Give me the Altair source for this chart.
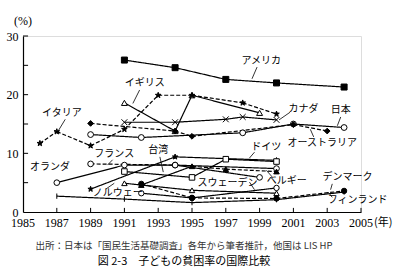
import altair as alt
import pandas as pd

# ---- data ----
series_names = ["アメリカ", "イギリス", "イタリア", "カナダ", "日本", "オーストラリア",
                "フランス", "オランダ", "台湾", "ドイツ", "ベルギー", "ノルウェー",
                "スウェーデン", "デンマーク", "フィンランド"]

years = {
    "アメリカ": [1991, 1994, 1997, 2000, 2004],
    "イギリス": [1991, 1994, 1995, 1999],
    "イタリア": [1986, 1987, 1989, 1991, 1993, 1995, 1998, 2000],
    "カナダ": [1991, 1994, 1997, 1998, 2000],
    "日本": [1989, 1992, 1998, 2001, 2004],
    "オーストラリア": [1989, 1994, 1995, 2001, 2003],
    "フランス": [1989, 1994, 2000],
    "オランダ": [1987, 1991, 1994, 1999],
    "台湾": [1989, 1994, 2000],
    "ドイツ": [1991, 1995, 1997, 2000],
    "ベルギー": [1992, 1995, 1997, 2000],
    "ノルウェー": [1991, 1995, 2000],
    "スウェーデン": [1992, 1995, 2000],
    "デンマーク": [1992, 1995, 2000, 2004],
    "フィンランド": [1987, 1991, 1995, 2000, 2004],
}
values = {
    "アメリカ": [25.9, 24.6, 22.6, 22.0, 21.3],
    "イギリス": [18.6, 13.8, 19.9, 16.9],
    "イタリア": [11.7, 13.7, 11.3, 14.1, 19.9, 19.9, 18.6, 16.7],
    "カナダ": [15.3, 15.3, 15.8, 16.2, 15.7],
    "日本": [13.2, 12.7, 13.5, 15.0, 14.4],
    "オーストラリア": [15.1, 13.8, 12.9, 14.9, 13.8],
    "フランス": [8.2, 8.0, 7.4],
    "オランダ": [5.0, 8.0, 8.0, 5.9],
    "台湾": [3.9, 9.4, 8.8],
    "ドイツ": [6.9, 5.9, 9.0, 8.6],
    "ベルギー": [4.6, 7.8, 7.3, 6.9],
    "ノルウェー": [4.9, 3.7, 3.2],
    "スウェーデン": [3.2, 2.4, 4.1],
    "デンマーク": [4.8, 2.4, 2.3, 3.6],
    "フィンランド": [2.7, 2.2, 1.6, 2.1, 3.4],
}
# dashed flag for each segment between consecutive points
dashed = {
    "イタリア": [True] * 7,
    "オーストラリア": [True] * 4,
    "フランス": [True, False],
    "ベルギー": [False, True, True],
    "デンマーク": [True] * 3,
}

x_ticks = list(range(1985, 2006, 2))
y_ticks = [0, 5, 10, 15, 20, 25, 30]

# label annotations: (text, x, y, leader x1, y1, x2, y2)
labels = [
    ("アメリカ", 1999.1, 25.7, 1998.85, 24.7, 1998.55, 22.7),
    ("イギリス", 1992.2, 22.0, 1991.9, 20.8, 1991.5, 18.5),
    ("イタリア", 1987.3, 16.9, 1987.5, 15.8, 1987.1, 13.9),
    ("カナダ", 2001.6, 17.5, 2000.8, 17.0, 2000.15, 15.7),
    ("日本", 2003.8, 17.4, 2003.8, 16.2, 2003.6, 14.7),
    ("オーストラリア", 2002.7, 11.7, 2002.2, 12.8, 2002.0, 14.1),
    ("フランス", 1990.4, 9.9, 1990.3, 8.9, 1990.0, 8.0),
    ("台湾", 1993.0, 10.6, 1993.1, 9.4, 1993.3, 6.8),
    ("オランダ", 1986.6, 7.7, None, None, None, None),
    ("ドイツ", 1999.4, 11.1, 1998.7, 10.2, 1998.4, 9.2),
    ("ベルギー", 2000.6, 5.3, 1999.8, 5.8, 1999.4, 7.1),
    ("スウェーデン", 1997.1, 4.9, 1998.4, 5.1, 1998.7, 3.8),
    ("ノルウェー", 1990.6, 3.2, 1989.9, 3.9, 1990.4, 4.9),
    ("デンマーク", 2004.2, 6.0, 2003.3, 4.8, 2003.2, 3.8),
    ("フィンランド", 2004.8, 2.0, 2003.05, 3.4, 2003.3, 2.5),
]

# ---- marker styles ----
STAR = "M0,-1L0.24,-0.33L0.95,-0.31L0.39,0.13L0.59,0.81L0,0.41L-0.59,0.81L-0.39,0.13L-0.95,-0.31L-0.24,-0.33Z"
XMARK = "M-1,-1L1,1M-1,1L1,-1"
TICK = "M0,-1L0,1"
marker = {
    "アメリカ": ("square", "black", 36),
    "イギリス": ("triangle-up", "white", 28),
    "イタリア": (STAR, "black", 42),
    "カナダ": (XMARK, "white", 20),
    "日本": ("circle", "white", 26),
    "オーストラリア": ("diamond", "black", 30),
    "フランス": ("circle", "white", 0),
    "オランダ": ("circle", "white", 13),
    "台湾": (STAR, "black", 42),
    "ドイツ": ("square", "white", 30),
    "ベルギー": ("triangle-up", "black", 28),
    "ノルウェー": ("triangle-up", "white", 15),
    "スウェーデン": ("circle", "white", 24),
    "デンマーク": ("circle", "black", 24),
    "フィンランド": (TICK, "white", 28),
}

# ---- tables ----
seg_rows, pt_rows = [], []
for s in series_names:
    ys, vs = years[s], values[s]
    flags = dashed.get(s, [False] * (len(ys) - 1))
    for i in range(len(ys) - 1):
        st = "dashed" if flags[i] else "solid"
        for j in (i, i + 1):
            seg_rows.append({"seg": f"{s}-{i}", "year": ys[j], "value": vs[j], "style": st, "order": j})
    for y, v in zip(ys, vs):
        pt_rows.append({"series": s, "year": y, "value": v})
seg_df = pd.DataFrame(seg_rows)
pt_df = pd.DataFrame(pt_rows)
lab_df = pd.DataFrame([{"text": t, "x": x, "y": y} for t, x, y, *_ in labels])
lead_df = pd.DataFrame([{"x": a, "y": b, "x2": c, "y2": d} for _, _, _, a, b, c, d in labels if a is not None])
xt_df = pd.DataFrame({"year": x_ticks[1:]})
xl_df = pd.DataFrame({"year": x_ticks, "lab": [str(v) for v in x_ticks]})
yt_df = pd.DataFrame({"v": y_ticks[1:]})

xs = alt.Scale(domain=[1985, 2005], nice=False, zero=False)
ysc = alt.Scale(domain=[0, 30], nice=False)
SERIF = "Liberation Serif"
JP = "Noto Sans CJK JP"

base_x = alt.X("year:Q", scale=xs,
               axis=alt.Axis(values=x_ticks, title=None, ticks=False, grid=False, labels=False,
                             domainColor="black", domainWidth=1.2))
base_y = alt.Y("value:Q", scale=ysc,
               axis=alt.Axis(values=y_ticks, title=None, ticks=False, grid=False,
                             labelOverlap=False, labelBound=False, labelFlush=False,
                             domainColor="black", domainWidth=1.2, labelFont=SERIF,
                             labelFontSize=12, labelColor="black", labelPadding=5))

lines = alt.Chart(seg_df).mark_line(color="black", strokeWidth=1.2).encode(
    x=base_x, y=base_y, detail="seg:N", order="order:Q",
    strokeDash=alt.StrokeDash("style:N", scale=alt.Scale(domain=["solid", "dashed"], range=[[1, 0], [4, 2]]), legend=None),
)

points = alt.Chart(pt_df).mark_point(stroke="black", strokeWidth=1, opacity=1, filled=False).encode(
    x=alt.X("year:Q", scale=xs), y=alt.Y("value:Q", scale=ysc),
    shape=alt.Shape("series:N", scale=alt.Scale(domain=series_names, range=[marker[s][0] for s in series_names]), legend=None),
    fill=alt.Fill("series:N", scale=alt.Scale(domain=series_names, range=[marker[s][1] for s in series_names]), legend=None),
    size=alt.Size("series:N", scale=alt.Scale(domain=series_names, range=[marker[s][2] for s in series_names]), legend=None),
)

xticks = alt.Chart(xt_df).mark_rule(color="black", strokeWidth=1).encode(
    x=alt.X("year:Q", scale=xs), y=alt.datum(0, scale=ysc), y2=alt.datum(0.7))
yticks = alt.Chart(yt_df).mark_rule(color="black", strokeWidth=1).encode(
    y=alt.Y("v:Q", scale=ysc), x=alt.datum(1985, scale=xs), x2=alt.datum(1985.3))

xlabels = alt.Chart(xl_df).mark_text(font=SERIF, fontSize=12, color="black", align="center", baseline="top", dy=6).encode(
    x=alt.X("year:Q", scale=xs), y=alt.datum(0, scale=ysc), text="lab:N")

leaders = alt.Chart(lead_df).mark_rule(color="black", strokeWidth=0.8).encode(
    x=alt.X("x:Q", scale=xs), y=alt.Y("y:Q", scale=ysc), x2="x2:Q", y2="y2:Q")

texts = alt.Chart(lab_df).mark_text(font=JP, fontSize=10, color="black", align="center", baseline="middle").encode(
    x=alt.X("x:Q", scale=xs), y=alt.Y("y:Q", scale=ysc), text="text:N")

pct = alt.Chart(pd.DataFrame({"t": ["(%)"]})).mark_text(font=SERIF, fontSize=12, color="black", align="center", baseline="middle").encode(
    x=alt.datum(1985, scale=xs), y=alt.datum(32.5, scale=ysc), text="t:N")
nen = alt.Chart(pd.DataFrame({"t": ["(年)"]})).mark_text(font=JP, fontSize=11, color="black", align="left", baseline="top", dx=13, dy=5).encode(
    x=alt.datum(2005, scale=xs), y=alt.datum(0, scale=ysc), text="t:N")

chart = alt.layer(lines, points, xticks, yticks, xlabels, leaders, texts, pct, nen).properties(
    width=338, height=176,
    autosize=alt.AutoSizeParams(type="none"),
    padding={"left": 23, "top": 36, "right": 39, "bottom": 62},
    title=alt.Title(
        text="出所：日本は「国民生活基礎調査」各年から筆者推計，他国は LIS HP",
        subtitle="図 2-3　子どもの貧困率の国際比較",
        orient="bottom", anchor="middle", font=JP, fontSize=9.5, fontWeight="normal",
        color="#333", subtitleFont=JP, subtitleFontSize=11, subtitleColor="black",
        offset=12, subtitlePadding=5, dx=-8,
    ),
).configure_view(stroke=None).configure(background="white")

chart.save("out.html", embed_options={"renderer": "svg", "actions": False})
